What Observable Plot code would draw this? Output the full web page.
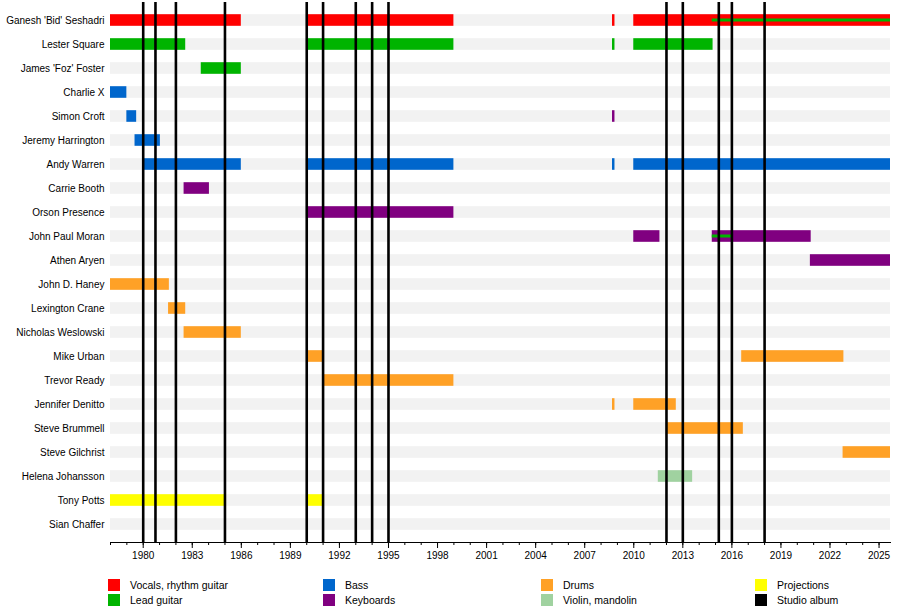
<!DOCTYPE html>
<html><head><meta charset="utf-8">
<script src="https://cdn.jsdelivr.net/npm/d3@7"></script>
<script src="https://cdn.jsdelivr.net/npm/@observablehq/plot@0.6"></script>
<style>
body{margin:0;background:#fff;font-family:"Liberation Sans",Arial,sans-serif;}
#legend{display:grid;grid-template-columns:215px 218px 214px 140px;margin-left:108px;margin-top:13px;row-gap:3px;font-size:10.5px;color:#000}
.it{display:flex;align-items:center;gap:10px}
.sw{width:12px;height:12px;display:inline-block}
</style></head><body>
<div id="chart"></div>
<div id="legend"></div>
<script>
const members = ["Ganesh 'Bid' Seshadri","Lester Square","James 'Foz' Foster","Charlie X","Simon Croft","Jeremy Harrington","Andy Warren","Carrie Booth","Orson Presence","John Paul Moran","Athen Aryen","John D. Haney","Lexington Crane","Nicholas Weslowski","Mike Urban","Trevor Ready","Jennifer Denitto","Steve Brummell","Steve Gilchrist","Helena Johansson","Tony Potts","Sian Chaffer"];
const roles = ["Vocals, rhythm guitar","Bass","Drums","Projections","Lead guitar","Keyboards","Violin, mandolin","Studio album"];
const roleColors = ["#ff0000","#0066cc","#ffa126","#ffff00","#00b400","#800080","#a0d2a0","#000000"];
const END = 2025.7;
// [member, role, start, end]
const periods = [
["Ganesh 'Bid' Seshadri","Vocals, rhythm guitar",1978,1986],["Ganesh 'Bid' Seshadri","Vocals, rhythm guitar",1990,1999],["Ganesh 'Bid' Seshadri","Vocals, rhythm guitar",2008.7,2008.85],["Ganesh 'Bid' Seshadri","Vocals, rhythm guitar",2010,END],
["Lester Square","Lead guitar",1978,1982.6],["Lester Square","Lead guitar",1990,1999],["Lester Square","Lead guitar",2008.7,2008.85],["Lester Square","Lead guitar",2010,2014.85],
["James 'Foz' Foster","Lead guitar",1983.55,1986],
["Charlie X","Bass",1978,1979],
["Simon Croft","Bass",1979,1979.6],["Simon Croft","Keyboards",2008.7,2008.85],
["Jeremy Harrington","Bass",1979.5,1981.05],
["Andy Warren","Bass",1980,1986],["Andy Warren","Bass",1990,1999],["Andy Warren","Bass",2008.7,2008.85],["Andy Warren","Bass",2010,END],
["Carrie Booth","Keyboards",1982.5,1984.05],
["Orson Presence","Keyboards",1990,1999],
["John Paul Moran","Keyboards",2010,2011.6],["John Paul Moran","Keyboards",2014.8,2020.85],
["Athen Aryen","Keyboards",2020.8,END],
["John D. Haney","Drums",1978,1981.6],
["Lexington Crane","Drums",1981.55,1982.6],
["Nicholas Weslowski","Drums",1982.5,1986],
["Mike Urban","Drums",1990,1991.05],["Mike Urban","Drums",2016.6,2022.85],
["Trevor Ready","Drums",1991,1999],
["Jennifer Denitto","Drums",2008.7,2008.85],["Jennifer Denitto","Drums",2010,2012.6],
["Steve Brummell","Drums",2012,2016.7],
["Steve Gilchrist","Drums",2022.8,END],
["Helena Johansson","Violin, mandolin",2011.5,2013.6],
["Tony Potts","Projections",1978,1985.05],["Tony Potts","Projections",1990,1991.05]
];
// secondary roles shown as thin inner lines
const secondary = [
["Ganesh 'Bid' Seshadri","Lead guitar",2014.8,END],
["John Paul Moran","Lead guitar",2014.8,2016]
];
const albums = [1980,1980.75,1982,1985,1990,1991,1993,1994,1995,2012,2013,2015.2,2016,2018];
const tickYears = d3.range(1980,2026,3);
const minorYears = d3.range(1978,2026,1);

const P = periods.map(([m,r,s,e])=>({m,r,s,e}));
const S = secondary.map(([m,r,s,e])=>({m,r,s,e}));
const bg = members.map(m=>({m,s:1978,e:END}));

const chart = Plot.plot({
  width:900,height:566,marginLeft:110,marginRight:10,marginTop:2,marginBottom:24,
  style:{fontFamily:"Liberation Sans, Arial, sans-serif",fontSize:"10px"},
  x:{domain:[1978,END],label:null},
  y:{domain:members,padding:0,label:null},
  color:{domain:roles,range:roleColors},
  marks:[
    Plot.barX(bg,{x1:"s",x2:"e",y:"m",fill:"#f2f2f2",insetTop:6.2,insetBottom:6.2}),
    Plot.barX(P,{x1:"s",x2:"e",y:"m",fill:"r",insetTop:6.2,insetBottom:6.2}),
    Plot.barX(S,{x1:"s",x2:"e",y:"m",fill:"r",insetTop:10.5,insetBottom:10.5}),
    Plot.ruleX(albums,{x:d=>d,stroke:"#000",strokeWidth:2.6}),
    Plot.axisY({tickSize:0,tickPadding:6,fontSize:10}),
    Plot.axisX(minorYears,{tickSize:3,tickFormat:()=>"",}),
    Plot.axisX(tickYears,{tickSize:6,tickFormat:d=>String(d),tickPadding:3,fontSize:10}),
    Plot.frame({anchor:"bottom"})
  ]
});
document.getElementById("chart").appendChild(chart);
const order=["Vocals, rhythm guitar","Bass","Drums","Projections","Lead guitar","Keyboards","Violin, mandolin","Studio album"];
const lg=document.getElementById("legend");
for(const r of order){const d=document.createElement("div");d.className="it";
 d.innerHTML=`<span class="sw" style="background:${roleColors[roles.indexOf(r)]}"></span><span>${r}</span>`;lg.appendChild(d);}
</script></body></html>
